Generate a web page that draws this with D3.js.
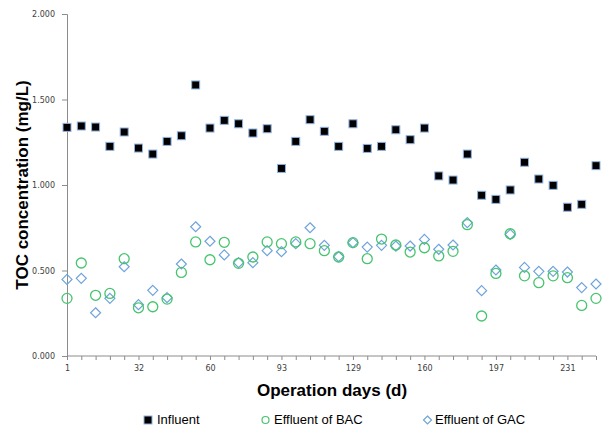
<!DOCTYPE html>
<html>
<head>
<meta charset="utf-8">
<script src="https://cdn.jsdelivr.net/npm/d3@7"></script>
<style>
  body { margin: 0; background: #fff; }
  svg { display: block; }
</style>
</head>
<body>
<script>
// data, one value per sampling (38 samples)
const dayLabels = ["1", "32", "60", "93", "129", "160", "197", "231"]  // shown every 5th sample
const influent = [1.337, 1.345, 1.339, 1.226, 1.31, 1.216, 1.181, 1.255, 1.288, 1.585,
  1.333, 1.378, 1.358, 1.304, 1.329, 1.097, 1.255, 1.382, 1.314, 1.226,
  1.358, 1.214, 1.226, 1.323, 1.265, 1.333, 1.053, 1.029, 1.181, 0.94,
  0.916, 0.971, 1.133, 1.035, 0.998, 0.87, 0.887, 1.113]
const effluentBAC = [0.337, 0.544, 0.355, 0.366, 0.569, 0.282, 0.288, 0.333, 0.489, 0.667,
  0.563, 0.665, 0.542, 0.579, 0.667, 0.657, 0.667, 0.657, 0.616, 0.579,
  0.663, 0.569, 0.684, 0.649, 0.608, 0.633, 0.585, 0.612, 0.768, 0.234,
  0.483, 0.715, 0.469, 0.429, 0.469, 0.458, 0.296, 0.337]
const effluentGAC = [0.448, 0.454, 0.253, 0.337, 0.522, 0.30, 0.384, 0.341, 0.538, 0.756,
  0.671, 0.591, 0.546, 0.546, 0.616, 0.61, 0.657, 0.75, 0.647, 0.581,
  0.663, 0.637, 0.647, 0.643, 0.643, 0.682, 0.624, 0.649, 0.78, 0.382,
  0.503, 0.711, 0.518, 0.495, 0.495, 0.491, 0.40, 0.421]
const yTicks = [0, 0.5, 1.0, 1.5, 2.0]

const w = 603
const h = 430
const padLeft = 67, padRight = 596, padTop = 14, padBottom = 356

const svg = d3.select("body")
  .append("svg")
  .attr("width", w)
  .attr("height", h)

const idx = d3.range(influent.length)

const xScale = d3.scalePoint()
  .domain(idx)
  .range([padLeft, padRight])

const yScale = d3.scaleLinear()
  .domain([0, 2])
  .range([padBottom, padTop])

// axes
const xAxis = d3.axisBottom(xScale)
  .tickValues(idx)
  .tickSize(4)
  .tickPadding(5)
  .tickFormat(i => i % 5 === 0 ? dayLabels[i / 5] : "")
const gx = svg.append("g")
  .attr("transform", "translate(0," + padBottom + ")")
  .call(xAxis)
gx.select(".domain").attr("d", "M" + padLeft + ",0H" + padRight)

const yAxis = d3.axisLeft(yScale)
  .tickValues(yTicks)
  .tickSize(5)
  .tickPadding(7)
  .tickFormat(d3.format(".3f"))
const gy = svg.append("g")
  .attr("transform", "translate(" + padLeft + ",0)")
  .call(yAxis)

svg.selectAll(".domain, .tick line")
  .attr("stroke", "#8c8c8c")
svg.selectAll(".tick text")
  .attr("fill", "#404040")
  .style("font-family", "DejaVu Sans")
  .style("font-size", "8px")

// titles
svg.append("text")
  .attr("x", 332)
  .attr("y", 396)
  .attr("text-anchor", "middle")
  .style("font-family", "Liberation Sans")
  .style("font-weight", "bold")
  .style("font-size", "17px")
  .text("Operation days (d)")

svg.append("text")
  .attr("transform", "translate(28,185) rotate(-90)")
  .attr("text-anchor", "middle")
  .style("font-family", "Liberation Sans")
  .style("font-weight", "bold")
  .style("font-size", "17px")
  .text("TOC concentration (mg/L)")

// marks
const blue = "#6fa3dc"
const green = "#47c46e"

svg.append("g").selectAll("path")
  .data(effluentGAC)
  .enter()
  .append("path")
  .attr("transform", (d, i) => "translate(" + xScale(i) + "," + yScale(d) + ")")
  .attr("d", "M0,-5L5,0L0,5L-5,0Z")
  .attr("fill", "none")
  .attr("stroke", blue)
  .attr("stroke-width", 1.2)

svg.append("g").selectAll("circle")
  .data(effluentBAC)
  .enter()
  .append("circle")
  .attr("cx", (d, i) => xScale(i))
  .attr("cy", d => yScale(d))
  .attr("r", 5)
  .attr("fill", "none")
  .attr("stroke", green)
  .attr("stroke-width", 1.3)

svg.append("g").selectAll("rect")
  .data(influent)
  .enter()
  .append("rect")
  .attr("x", (d, i) => xScale(i) - 4)
  .attr("y", d => yScale(d) - 4)
  .attr("width", 8)
  .attr("height", 8)
  .attr("fill", "#000")
  .attr("stroke", "#8fb3e0")
  .attr("stroke-width", 1)

// legend
const legend = svg.append("g")
  .style("font-family", "Liberation Sans")
  .style("font-size", "13px")

legend.append("rect")
  .attr("x", 144).attr("y", 416).attr("width", 8).attr("height", 8)
  .attr("fill", "#000").attr("stroke", "#8fb3e0")
legend.append("text").attr("x", 157).attr("y", 424).text("Influent")

legend.append("circle")
  .attr("cx", 265.5).attr("cy", 420).attr("r", 3.5)
  .attr("fill", "none").attr("stroke", green).attr("stroke-width", 1.2)
legend.append("text").attr("x", 274).attr("y", 424).text("Effluent of BAC")

legend.append("path")
  .attr("transform", "translate(427.5,420)")
  .attr("d", "M0,-4L4,0L0,4L-4,0Z")
  .attr("fill", "none").attr("stroke", blue).attr("stroke-width", 1.2)
legend.append("text").attr("x", 435).attr("y", 424).text("Effluent of GAC")
</script>
</body>
</html>
